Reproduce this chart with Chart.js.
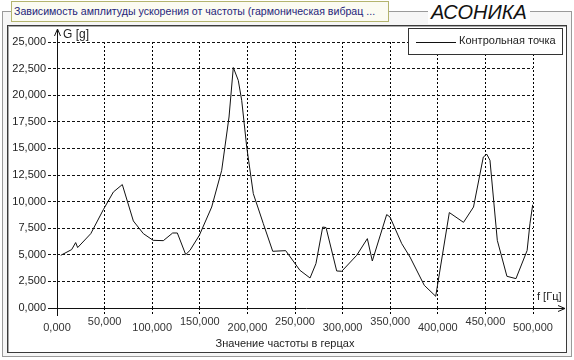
<!DOCTYPE html>
<html>
<head>
<meta charset="utf-8">
<script src="https://cdn.jsdelivr.net/npm/chart.js@4.4.0/dist/chart.umd.min.js"></script>
<style>
    body { margin: 0; width: 574px; height: 360px; position: relative; overflow: hidden; background: #fff;
           font-family: "Liberation Sans", Arial, sans-serif; }
    #outer { position: absolute; left: 2px; top: 11px; width: 568px; height: 344px; border: 1px solid #9a9a9a; background: #f6f6f6; }
    #title { position: absolute; left: 11px; top: 1px; width: 374px; height: 19px; border: 1px solid #b4b46e;
             background: #fbfbf2; color: #25257a; font-size: 10.6px; line-height: 19px; padding-left: 2px;
             white-space: nowrap; overflow: hidden; }
    #brand { position: absolute; left: 428px; top: 0px; padding: 0 3px; background: #fff; font-size: 20px;
             font-style: italic; color: #111; line-height: 24px; }
    #panel { position: absolute; left: 7px; top: 25px; width: 558px; height: 326px; border: 1px solid #3a3a3a;
             background: #fff; box-shadow: inset 1px 1px 0 #aaa; }
    #chart { position: absolute; left: 0; top: 0; }
    .lbl { position: absolute; color: #222; white-space: nowrap; }
    #legend { position: absolute; left: 408px; top: 28px; width: 153px; height: 25px; border: 1px solid #333; background: #fff; }
    #legend .swatch { position: absolute; left: 7px; top: 13px; width: 40px; border-top: 1px solid #111; }
    #legend .text { position: absolute; left: 50px; top: 5px; font-size: 11px; color: #222; }
</style>
</head>
<body>
<div id="outer"></div>
<div id="title"></div>
<div id="brand"></div>
<div id="panel"></div>
<canvas id="chart" width="574" height="360"></canvas>
<div id="legend"><div class="swatch"></div><div class="text" id="legendText"></div></div>
<div class="lbl" id="yTitle" style="left:63px; top:27px; font-size:12px;"></div>
<div class="lbl" id="xUnit" style="left:537px; top:290px; font-size:11px;"></div>
<div class="lbl" id="xTitle" style="left:0; width:570px; text-align:center; top:337px; font-size:11px;"></div>

<script>
// chart texts
const chartTitle = 'Зависимость амплитуды ускорения от частоты (гармоническая вибрац ...';
const brandName = 'АСОНИКА';
const seriesName = 'Контрольная точка';
const yAxisTitle = 'G [g]';
const xAxisUnit = 'f [Гц]';
const xAxisTitle = 'Значение частоты в герцах';

// frequency, Hz
const freq = [3.9, 15.4, 19.6, 21.7, 35.5, 48.7, 59.2, 68.6, 80.2, 90.7,
    101, 111.7, 121.5, 126.4, 135.2, 139.7, 149.5, 162.5, 173, 180.7,
    185.2, 190.4, 194, 199.3, 206.2, 216.7, 226.6, 240.2, 255.2, 265.8,
    272, 279.1, 282.6, 293.8, 299.1, 314.8, 326, 331.2, 346.3, 349.8,
    362.1, 370.8, 385.8, 397.8, 412.1, 427, 437.5, 447.8, 451.5, 454.8,
    462.5, 472.6, 482.1, 493.8, 496.8, 499.7];

// acceleration amplitude, g
const accel = [4.95, 5.49, 6.15, 5.68, 6.99, 9.25, 10.9, 11.6, 8.18, 6.99,
    6.36, 6.33, 7.05, 7.05, 5.02, 5.42, 6.83, 9.49, 12.94, 17.95,
    22.6, 21.4, 19.52, 15.13, 10.75, 7.93, 5.33, 5.39, 3.54, 2.82,
    4.17, 7.61, 7.56, 3.48, 3.45, 4.95, 6.52, 4.42, 8.78, 8.55,
    6.05, 4.79, 2.13, 1.1, 8.97, 8.05, 9.49, 14.19, 14.45, 13.88,
    6.36, 2.98, 2.76, 5.4, 7.93, 9.7];

// axis ranges and tick steps
const xTicks = { min: 0, max: 500, step: 50 };
const yTicks = { min: 0, max: 25, step: 2.5 };

document.getElementById('title').innerText = chartTitle;
document.getElementById('brand').innerText = brandName;
document.getElementById('legendText').innerText = seriesName;
document.getElementById('yTitle').innerText = yAxisTitle;
document.getElementById('xUnit').innerText = xAxisUnit;
document.getElementById('xTitle').innerText = xAxisTitle;

function fmt(v) {
    return v.toFixed(3).replace('.', ',');
}

// axes with arrows + staggered x tick labels
const axesPlugin = {
    id: 'axesArrows',
    afterDraw(chart) {
        const ctx = chart.ctx;
        const area = chart.chartArea;
        const xs = chart.scales.x;
        const x0 = Math.round(area.left) + 0.5;
        const y0 = Math.round(area.bottom) + 0.5;
        ctx.save();
        ctx.strokeStyle = '#111';
        ctx.lineWidth = 1;
        ctx.beginPath();
        ctx.moveTo(area.left - 9, y0);
        ctx.lineTo(565, y0);
        ctx.moveTo(558, y0 - 3);
        ctx.lineTo(565, y0);
        ctx.lineTo(558, y0 + 3);
        ctx.moveTo(x0, area.bottom + 8);
        ctx.lineTo(x0, 29);
        ctx.moveTo(x0 - 3, 36);
        ctx.lineTo(x0, 29);
        ctx.lineTo(x0 + 3, 36);
        ctx.stroke();

        ctx.fillStyle = '#333';
        ctx.font = '11px "Liberation Sans", Arial, sans-serif';
        ctx.textAlign = 'center';
        ctx.textBaseline = 'middle';
        xs.ticks.forEach((t, i) => {
            const px = xs.getPixelForValue(t.value);
            ctx.fillText(fmt(t.value), px, i % 2 ? 322 : 328);
        });
        ctx.restore();
    }
};

const ctx = document.getElementById('chart').getContext('2d');
new Chart(ctx, {
    type: 'line',
    data: {
        datasets: [{
            label: seriesName,
            data: freq.map((f, i) => ({ x: f, y: accel[i] })),
            borderColor: '#111',
            borderWidth: 1,
            pointRadius: 0,
            tension: 0,
            fill: false
        }]
    },
    options: {
        responsive: false,
        animation: false,
        devicePixelRatio: 1,
        layout: { padding: { left: 0, top: 42, right: 41, bottom: 0 } },
        plugins: {
            legend: { display: false },
            tooltip: { enabled: false }
        },
        scales: {
            x: {
                type: 'linear',
                min: xTicks.min,
                max: xTicks.max,
                ticks: { stepSize: xTicks.step, display: false },
                grid: { color: '#000', lineWidth: 1, tickLength: 6, tickColor: '#000', tickBorderDash: [2, 2] },
                border: { display: false, dash: [2, 2] },
                afterFit: (scale) => { scale.height = 52; }
            },
            y: {
                min: yTicks.min,
                max: yTicks.max,
                ticks: {
                    stepSize: yTicks.step,
                    padding: 2,
                    color: '#222',
                    font: { family: '"Liberation Sans", Arial, sans-serif', size: 11 },
                    callback: (v) => fmt(v)
                },
                grid: { color: '#111', lineWidth: 1, tickLength: 9, tickColor: '#111', tickBorderDash: [3, 2] },
                border: { display: false, dash: [3, 2] },
                afterFit: (scale) => { scale.width = 57; }
            }
        }
    },
    plugins: [axesPlugin]
});
</script>
</body>
</html>
